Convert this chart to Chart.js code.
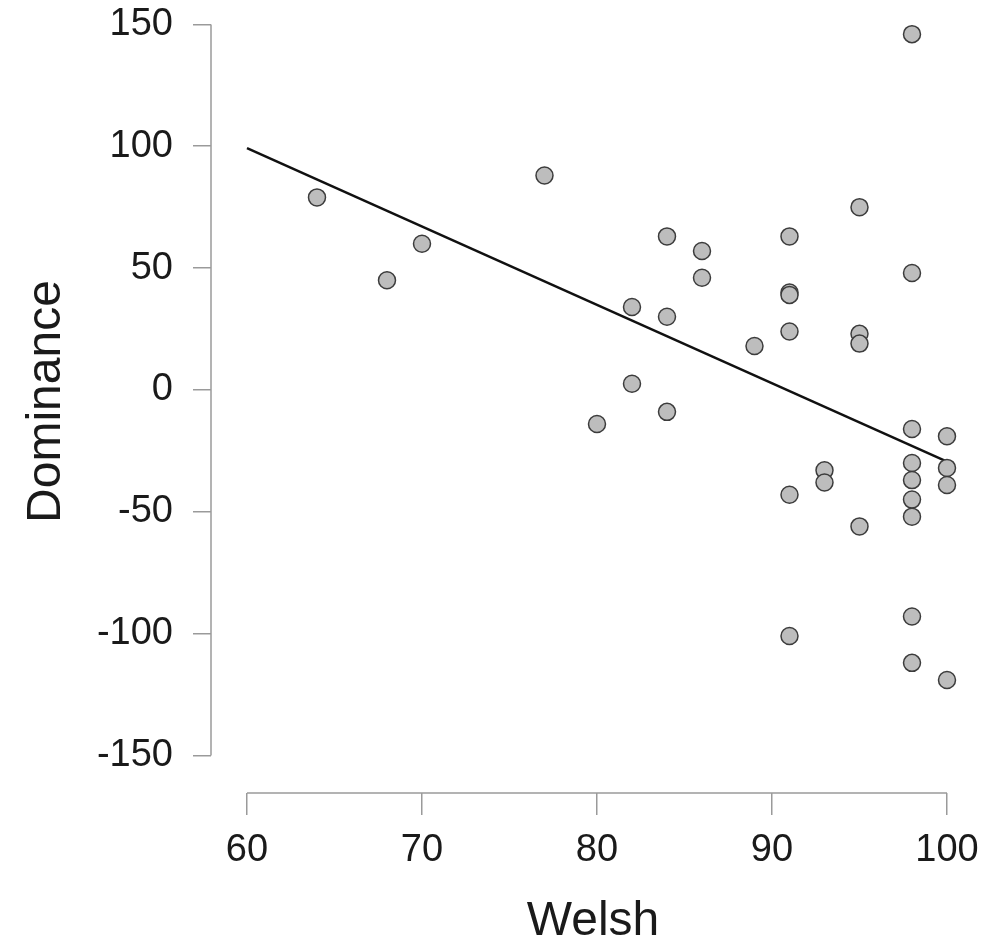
<!DOCTYPE html>
<html>
<head>
<meta charset="utf-8">
<script src="https://cdn.jsdelivr.net/npm/chart.js@4.4.1/dist/chart.umd.min.js"></script>
<style>
  html, body { margin: 0; padding: 0; background: #fff; }
  #wrap { width: 985px; height: 947px; position: relative; }
</style>
</head>
<body>
<div id="wrap"><canvas id="chartCanvas"></canvas></div>
<script>
// Welsh vs Dominance
const welsh = [64, 68, 70, 77, 80, 82, 82, 84, 84, 84, 86, 86, 89,
    91, 91, 91, 91, 91, 91, 93, 93, 95, 95, 95, 95,
    98, 98, 98, 98, 98, 98, 98, 98, 98, 100, 100, 100, 100];
const dominance = [79, 45, 60, 88, -14, 34, 2.5, 63, 30, -9, 57, 46, 18,
    63, 40, 39, 24, -43, -101, -33, -38, 75, 23, 19, -56,
    146, 48, -16, -30, -37, -45, -52, -93, -112, -19, -32, -39, -119];

// fitted regression line end points
const fitX = [60, 100];
const fitY = [99.2, -29.4];

const xTicks = [60, 70, 80, 90, 100];
const yTicks = [-150, -100, -50, 0, 50, 100, 150];

const axisGray = '#9a9a9a';
const textColor = '#1a1a1a';
const fontFamily = '"Liberation Sans", Arial, Helvetica, sans-serif';

// R-style detached axis lines, only spanning the tick range
const axisLines = {
    id: 'axisLines',
    beforeDatasetsDraw(chart) {
        const { ctx, chartArea, scales } = chart;
        const x = scales.x, y = scales.y;
        ctx.save();
        ctx.strokeStyle = axisGray;
        ctx.lineWidth = 1.5;
        ctx.beginPath();
        ctx.moveTo(x.getPixelForValue(xTicks[0]), chartArea.bottom);
        ctx.lineTo(x.getPixelForValue(xTicks[xTicks.length - 1]), chartArea.bottom);
        ctx.moveTo(chartArea.left, y.getPixelForValue(yTicks[0]));
        ctx.lineTo(chartArea.left, y.getPixelForValue(yTicks[yTicks.length - 1]));
        ctx.stroke();
        ctx.restore();
    }
};

const ctx = document.getElementById('chartCanvas').getContext('2d');
const chartInstance = new Chart(ctx, {
    type: 'scatter',
    data: {
        datasets: [{
            label: 'Fit',
            type: 'line',
            data: fitX.map((v, i) => ({ x: v, y: fitY[i] })),
            borderColor: '#111',
            borderWidth: 2.5,
            pointRadius: 0,
            fill: false,
            order: 2
        }, {
            label: 'Dominance',
            data: welsh.map((v, i) => ({ x: v, y: dominance[i] })),
            backgroundColor: '#bdbdbd',
            borderColor: '#3c3c3c',
            borderWidth: 1.5,
            pointRadius: 8.5,
            order: 1
        }]
    },
    options: {
        responsive: true,
        maintainAspectRatio: false,
        animation: false,
        layout: { padding: { top: 10, right: 10, left: 0, bottom: 0 } },
        plugins: {
            legend: { display: false },
            tooltip: { enabled: false }
        },
        scales: {
            x: {
                type: 'linear',
                min: 57.943,
                max: 101.6,
                afterBuildTicks: (scale) => { scale.ticks = xTicks.map(v => ({ value: v })); },
                afterFit: (scale) => {
                    scale.height = 154;
                    scale.paddingLeft = 0;
                    scale.paddingRight = 0;
                },
                border: { display: false },
                grid: {
                    drawOnChartArea: false,
                    drawTicks: true,
                    tickLength: 22,
                    color: axisGray,
                    lineWidth: 1.5
                },
                ticks: {
                    padding: 13,
                    color: textColor,
                    font: { family: fontFamily, size: 38 }
                },
                title: {
                    display: true,
                    text: 'Welsh',
                    color: textColor,
                    padding: { top: 0, bottom: -4 },
                    font: { family: fontFamily, size: 48 }
                }
            },
            y: {
                type: 'linear',
                min: -165.4,
                max: 155.9,
                afterBuildTicks: (scale) => { scale.ticks = yTicks.map(v => ({ value: v })); },
                afterFit: (scale) => {
                    scale.width = 211;
                    scale.paddingTop = 0;
                    scale.paddingBottom = 0;
                },
                border: { display: false },
                grid: {
                    drawOnChartArea: false,
                    drawTicks: true,
                    tickLength: 18,
                    color: axisGray,
                    lineWidth: 1.5
                },
                ticks: {
                    padding: 20,
                    color: textColor,
                    font: { family: fontFamily, size: 38 }
                },
                title: {
                    display: true,
                    text: 'Dominance',
                    color: textColor,
                    padding: { top: 18, bottom: 0 },
                    font: { family: fontFamily, size: 48 }
                }
            }
        }
    },
    plugins: [axisLines]
});
</script>
</body>
</html>
